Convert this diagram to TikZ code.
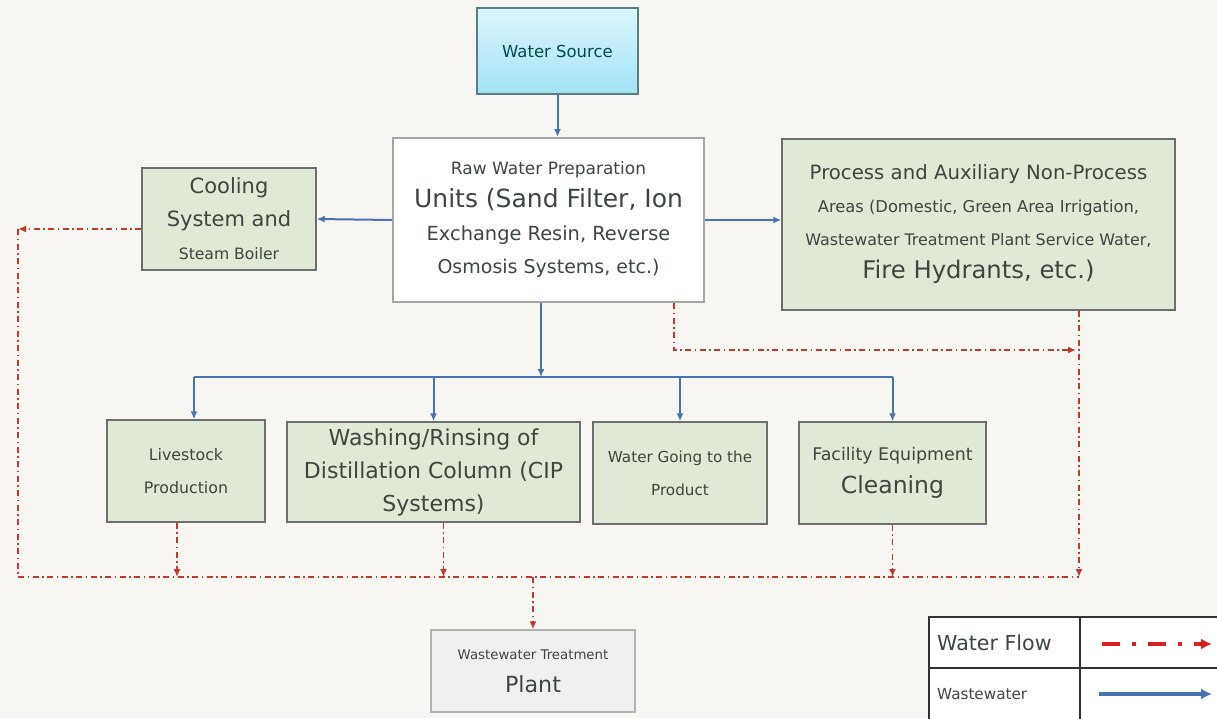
\documentclass[tikz,border=0pt]{standalone}
\usepackage{fontspec}
\setmainfont{DejaVu Sans}
\usepackage{xcolor}
\usetikzlibrary{arrows.meta}

\definecolor{fond}{HTML}{F8F6F3}
\definecolor{vert}{HTML}{DFE9D6}
\definecolor{bord}{HTML}{6E6E6E}
\definecolor{bleu}{HTML}{4A72B2}
\definecolor{rouge}{HTML}{BF3A2E}
\definecolor{rougevif}{HTML}{D8201E}
\definecolor{cyanh}{HTML}{DCF6FC}
\definecolor{cyanb}{HTML}{A2E3F5}
\definecolor{texte}{HTML}{3E4640}

\newcommand{\fs}[1]{\fontsize{#1}{33}\selectfont}

\tikzset{
  boite/.style={draw=bord, line width=1.5pt, fill=vert, text=texte, align=center, font=\fs{16}, inner sep=0pt},
  eau/.style={draw=bleu, line width=2pt, ->},
  rejet/.style={draw=rouge, line width=1.7pt, dash pattern=on 6pt off 3.5pt on 1.5pt off 3.5pt, ->},
}

\begin{document}
\begin{tikzpicture}[x=1pt, y=-1pt, >={Latex[length=8pt,width=7pt]}]
    % Fond
    \fill[fond] (0,0) rectangle (1217,718);
    \useasboundingbox (0,0) rectangle (1217,718);

    % Les boites
    \node[boite, top color=cyanh, bottom color=cyanb, draw=gray!70!teal, text=teal!60!black,
          minimum width=161pt, minimum height=86pt, font=\fs{16.5}] (src) at (557.5,51) {Water Source};
    \node[boite, fill=white, draw=gray!70, line width=2pt, minimum width=311pt, minimum height=164pt] (raw) at (548.5,220)
        {\fs{17}Raw Water Preparation\\ \fs{25}Units (Sand Filter, Ion\\ \fs{19.4}Exchange Resin, Reverse\\ \fs{19}Osmosis Systems, etc.)};
    \node[boite, minimum width=174pt, minimum height=102pt] (cool) at (229,219)
        {\fs{21}Cooling\\ \fs{21}System and\\ \fs{15.6}Steam Boiler};
    \node[boite, minimum width=393pt, minimum height=171pt] (proc) at (978.5,224.5)
        {\fs{19.7}Process and Auxiliary Non-Process\\ \fs{16.3}Areas (Domestic, Green Area Irrigation,\\ \fs{15.9}Wastewater Treatment Plant Service Water,\\ \fs{24.3}Fire Hydrants, etc.)};
    \node[boite, minimum width=158pt, minimum height=102pt, font=\fs{15.8}] (live) at (186,471) {Livestock\\ Production};
    \node[boite, minimum width=293pt, minimum height=100pt, font=\fs{22}] (wash) at (433.5,472)
        {Washing/Rinsing of\\ Distillation Column (CIP\\ Systems)};
    \node[boite, minimum width=174pt, minimum height=102pt, font=\fs{15.2}] (prod) at (680,473) {Water Going to the\\ Product};
    \node[boite, minimum width=187pt, minimum height=102pt] (clean) at (892.5,473)
        {\fs{17.4}Facility Equipment\\ \fs{23.5}Cleaning};
    \node[boite, fill=gray!12, draw=gray!60, minimum width=204pt, minimum height=82pt] (plant) at (533,671)
        {\fs{13.3}Wastewater Treatment\\ \fs{22.2}Plant};

    % Points de passage
    \coordinate (hg) at (18,229);
    \coordinate (bg) at (18,577);
    \coordinate (bd) at (1079,577);
    \coordinate (mg) at (674,350);
    \coordinate (md) at (1076,350);
    \coordinate (bus) at (541,377);

    % Fleches bleues
    \draw[eau] (src.south) -- (src.south |- raw.north);
    \draw[eau] (raw.west) -- (cool.east);
    \draw[eau] (raw.east) -- (raw.east -| proc.west);
    \draw[eau] (raw.south -| bus) -- (bus);
    \draw[eau, -] ([xshift=8pt]bus -| live.north) -- (bus -| clean.north);
    \draw[eau] ([xshift=8pt]bus -| live.north) -- ([xshift=8pt]live.north);
    \foreach \b in {wash,prod,clean}
        \draw[eau] (bus -| \b.north) -- (\b.north);

    % Fleches rouges
    \draw[rejet] ([yshift=-10pt]cool.west) -- (hg);
    \draw[rejet, -] (hg) -- (bg) -- (bd);
    \draw[rejet] (raw.south -| mg) -- (mg) -- (md);
    \draw[rejet] (proc.south -| bd) -- (bd);
    \foreach \b/\dx in {live/-9, wash/10, clean/0}
        \draw[rejet] ([xshift=\dx pt]\b.south) -- ([xshift=\dx pt]\b.south |- bd);
    \draw[rejet] (plant.north |- bd) -- (plant.north);

    % Legende
    \draw[fill=white, draw=gray!40!black, line width=1.2pt] (929,617) rectangle (1230,730);
    \draw[gray!40!black, line width=1.2pt] (1080,617) -- (1080,730) (929,668) -- (1230,668);
    \node[anchor=west, inner sep=0pt, text=texte, font=\fs{20.6}] (lflow) at (937,643) {Water Flow};
    \node[anchor=west, inner sep=0pt, text=texte, font=\fs{15.2}] (lwaste) at (937,694) {Wastewater};
    \coordinate (la) at (1102,644);
    \coordinate (lb) at (1212,644);
    \coordinate (lc) at (1099,694);
    \coordinate (ld) at (1212,694);
    \draw[rejet, draw=rougevif, line width=4pt, dash pattern=on 18pt off 12pt on 4pt off 12pt,
          -{Latex[length=11pt,width=11pt]}] (la) -- (lb);
    \draw[eau, line width=4pt, -{Latex[length=11pt,width=11pt]}] (lc) -- (ld);
\end{tikzpicture}
\end{document}
